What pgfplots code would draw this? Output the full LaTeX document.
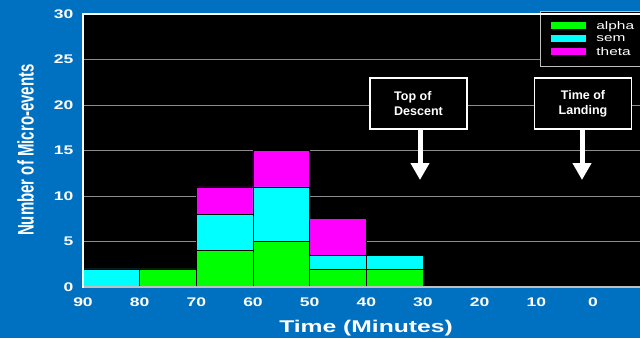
\documentclass[border=0pt]{standalone}
\usepackage{pgfplots}
\pgfplotsset{compat=1.18}
\usepackage{graphicx}
\usepackage{fontspec}
\setmainfont{Liberation Sans}
\usetikzlibrary{arrows.meta}
\definecolor{bgblue}{RGB}{0,112,192}
\definecolor{gridgray}{RGB}{140,140,140}
\definecolor{cgreen}{RGB}{0,255,0}
\definecolor{ccyan}{RGB}{0,255,255}
\definecolor{cmag}{RGB}{255,0,255}
\newcommand{\wide}[1]{\scalebox{1.4}[1]{#1}}
\newcommand{\legtxt}[1]{\hspace*{8pt}\scalebox{1.4}[1]{#1}}
\begin{document}
\begin{tikzpicture}[x=1pt,y=1pt]
\fill[bgblue] (0,0) rectangle (640,338);
\begin{axis}[
  at={(83pt,51pt)}, anchor=south west,
  scale only axis, width=557pt, height=273pt,
  x dir=reverse, xmin=-8.3, xmax=90, ymin=0, ymax=30,
  xtick={0,10,...,90}, ytick={0,5,...,30},
  ymajorgrids, grid style={gridgray, line width=1pt},
  axis background/.style={fill=black},
  axis line style={draw=none},
  major tick length=0pt,
  /pgf/number format/assume math mode=true,
  ticklabel style={white, font=\bfseries\fontsize{12.5}{13}\selectfont},
  xticklabel={\wide{\pgfmathprintnumber{\tick}}},
  yticklabel={\wide{\pgfmathprintnumber{\tick}}},
  xticklabel style={yshift=-7pt},
  yticklabel style={xshift=-6pt},
  ybar stacked, bar width=10,
  legend style={at={(0.8205,1.011)}, anchor=north west, fill=black,
    draw=white!75!black, line width=0.8pt, text=white,
    font=\fontsize{11}{11}\selectfont, row sep=0pt,
    inner xsep=11pt, inner ysep=8pt,
    nodes={minimum height=13pt, inner ysep=0pt}},
  legend cell align=left,
  legend image code/.code={\fill[#1,draw=none] (0pt,-3pt) rectangle (35pt,4pt);},
]
\addplot[fill=cgreen, draw=black, line width=0.6pt] coordinates {(85,0) (75,2) (65,4) (55,5) (45,2) (35,2)};
\addplot[fill=ccyan, draw=black, line width=0.6pt] coordinates {(85,2) (75,0) (65,4) (55,6) (45,1.5) (35,1.5)};
\addplot[fill=cmag, draw=black, line width=0.6pt] coordinates {(85,0) (75,0) (65,3) (55,4) (45,4) (35,0)};
\legend{\legtxt{alpha},\legtxt{sem},\legtxt{theta}}
\end{axis}
% frame
\draw[white, line width=1.5pt] (83,324) -- (640,324);
\draw[white!75!black, line width=1.8pt] (83,51) -- (640,51);
\draw[white, line width=2pt] (83,50) -- (83,325);
% labels
\node[rotate=90, white, font=\bfseries\fontsize{15}{16}\selectfont] at (25.5,188) {\scalebox{1}[1.5]{Number of Micro-events}};
\node[white, font=\bfseries\fontsize{17}{18}\selectfont] at (366,10) {\scalebox{1.45}[1]{Time (Minutes)}};
% annotations
\node[draw=white, line width=1.6pt, fill=black, text=white, minimum width=97pt, minimum height=51pt, align=left, font=\bfseries\fontsize{12.5}{15}\selectfont] (tod) at (418.5,234.5) {Top of\\Descent};
\draw[white, line width=5pt, -{Triangle[width=18pt,length=17pt]}] (420,208) -- (420,158);
\node[draw=white, line width=1.6pt, fill=black, text=white, minimum width=97pt, minimum height=51pt, align=center, font=\bfseries\fontsize{12.5}{15}\selectfont] (tol) at (583,234.5) {Time of\\Landing};
\draw[white, line width=5pt, -{Triangle[width=18pt,length=17pt]}] (582,208) -- (582,158);
\pgfresetboundingbox
\useasboundingbox (0,0) rectangle (640,338);
\end{tikzpicture}
\end{document}
